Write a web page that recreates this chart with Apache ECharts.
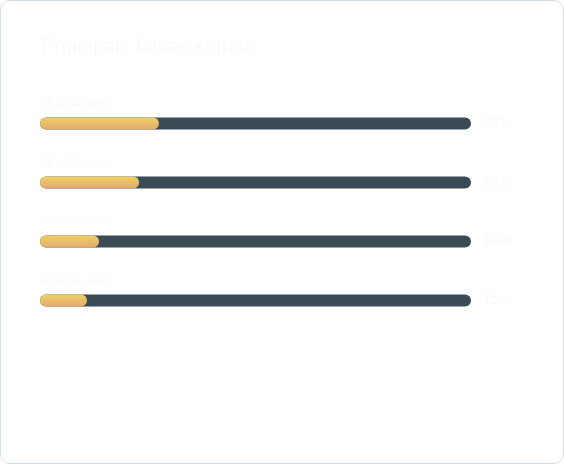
<!DOCTYPE html>
<html>
<head>
<meta charset="utf-8">
<script src="https://cdn.jsdelivr.net/npm/echarts@6/dist/echarts.min.js"></script>
<style>
  html, body { margin: 0; padding: 0; background: #fff; }
  .card {
    position: absolute; left: 0; top: 0;
    width: 562px; height: 462px;
    border: 1px solid #d3dde5; border-radius: 10px;
    background: #fff; overflow: hidden;
  }
  #chart { width: 562px; height: 462px; }
</style>
</head>
<body>
<div class="card"><div id="chart"></div></div>
<script>
// faixas etarias e percentuais
const categories = ['25 a 34 anos', '35 a 44 anos', '18 a 24 anos', '45 a 54 anos'];
const values = [27.6, 23.0, 13.7, 10.9];
const trackMax = [100, 100, 100, 100];

var myChart = echarts.init(document.getElementById('chart'));
myChart.setOption({
    title: {
        text: 'Principais faixas etárias',
        left: 36,
        top: 32,
        textStyle: { color: '#fafafa', fontSize: 20, fontWeight: 'normal', fontFamily: 'Roboto' }
    },
    grid: { left: 39, top: 93, width: 431, height: 236 },
    xAxis: { type: 'value', min: 0, max: 100, show: false },
    yAxis: {
        type: 'category',
        data: categories,
        inverse: true,
        show: false
    },
    series: [
        {
            type: 'bar',
            data: trackMax,
            barWidth: 12,
            barGap: '-100%',
            silent: true,
            itemStyle: { color: '#3b4b56', borderRadius: 6 },
            label: {
                show: true,
                position: 'right',
                distance: 12,
                color: '#f9f9f9',
                fontSize: 14,
                formatter: (p) => Math.round(values[p.dataIndex]) + '%'
            },
            z: 1
        },
        {
            type: 'bar',
            data: values,
            barWidth: 12,
            itemStyle: {
                borderRadius: 6,
                color: new echarts.graphic.LinearGradient(0, 0, 0, 1, [
                    { offset: 0, color: '#efd163' },
                    { offset: 1, color: '#e2aa72' }
                ])
            },
            label: {
                show: true,
                position: [0, -20],
                color: '#fafafa',
                fontSize: 12,
                formatter: (p) => categories[p.dataIndex]
            },
            z: 2
        }
    ]
});
</script>
</body>
</html>
